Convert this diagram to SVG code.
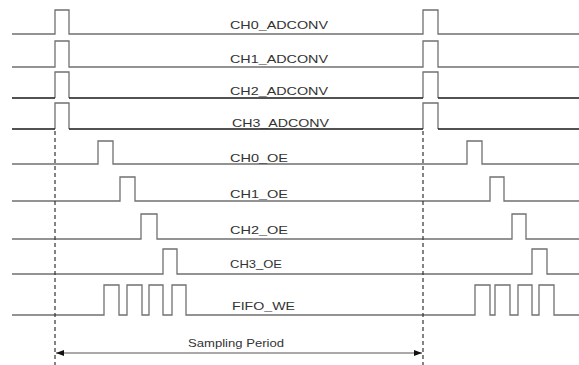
<svg xmlns="http://www.w3.org/2000/svg" width="579" height="365" viewBox="0 0 579 365">
<style>
.w{fill:none;stroke:#707070;stroke-width:1.3}
.d{fill:none;stroke:#1a1a1a;stroke-width:1.5}
.t{font-family:"Liberation Sans",Arial,sans-serif;font-size:10.5px;fill:#333}
.dash{stroke:#333;stroke-width:1.2;stroke-dasharray:4 3;fill:none}
</style>
<defs>
<marker id="ah" markerWidth="8" markerHeight="6" refX="8" refY="3" orient="auto-start-reverse" markerUnits="userSpaceOnUse">
<path d="M0,0 L8,3 L0,6 Z" fill="#111"/>
</marker>
</defs>
<rect width="579" height="365" fill="#fff"/>
<g id="ch0_adconv">
<path class="w" d="M12,34 H55 V10 H69 V34 H423 V10 H438 V34 H579"/>
<text class="t" x="230" y="29" textLength="98" lengthAdjust="spacingAndGlyphs">CH0_ADCONV</text>
</g>
<g id="ch1_adconv">
<path class="w" d="M12,67 H55 V41 H69 V67 H423 V41 H438 V67 H579"/>
<text class="t" x="230" y="63" textLength="98" lengthAdjust="spacingAndGlyphs">CH1_ADCONV</text>
</g>
<g id="ch2_adconv">
<path class="w" d="M55,98 V72 H69 V98 M423,98 V72 H438 V98"/>
<path class="d" d="M12,98 H55 M69,98 H423 M438,98 H579"/>
<text class="t" x="230" y="95" textLength="98" lengthAdjust="spacingAndGlyphs">CH2_ADCONV</text>
</g>
<g id="ch3_adconv">
<path class="w" d="M55,129 V103 H69 V129 M423,129 V103 H438 V129"/>
<path class="d" d="M12,129 H55 M69,129 H423 M438,129 H579"/>
<text class="t" x="232" y="127" textLength="97" lengthAdjust="spacingAndGlyphs">CH3_ADCONV</text>
</g>
<g id="ch0_oe">
<path class="w" d="M12,164 H98 V141 H113 V164 H467 V141 H482 V164 H579"/>
<text class="t" x="230" y="162" textLength="58" lengthAdjust="spacingAndGlyphs">CH0_OE</text>
</g>
<g id="ch1_oe">
<path class="w" d="M12,201 H120 V177 H135 V201 H490 V177 H504 V201 H579"/>
<text class="t" x="230" y="198" textLength="58" lengthAdjust="spacingAndGlyphs">CH1_OE</text>
</g>
<g id="ch2_oe">
<path class="w" d="M12,239 H141 V214 H157 V239 H512 V214 H526 V239 H579"/>
<text class="t" x="230" y="234" textLength="58" lengthAdjust="spacingAndGlyphs">CH2_OE</text>
</g>
<g id="ch3_oe">
<path class="w" d="M12,274 H163 V249 H177 V274 H532 V249 H547 V274 H579"/>
<text class="t" x="230" y="268" textLength="52" lengthAdjust="spacingAndGlyphs">CH3_OE</text>
</g>
<g id="fifo_we">
<path class="w" d="M12,315 H104 V285 H119 V315 H127 V285 H142 V315 H149 V285 H163 V315 H172 V285 H186 V315 H475 V285 H490 V315 H495 V285 H510 V315 H518 V285 H532 V315 H539 V285 H554 V315 H579"/>
<text class="t" x="232" y="310" textLength="63" lengthAdjust="spacingAndGlyphs">FIFO_WE</text>
</g>
<g id="connectors">
<line class="dash" x1="55" y1="131" x2="55" y2="365"/>
<line class="dash" x1="423" y1="131" x2="423" y2="365"/>
<line x1="56" y1="353" x2="422" y2="353" stroke="#555" stroke-width="1.2" marker-start="url(#ah)" marker-end="url(#ah)"/>
</g>
<text class="t" x="188" y="347" textLength="96" lengthAdjust="spacingAndGlyphs">Sampling Period</text>
</svg>
